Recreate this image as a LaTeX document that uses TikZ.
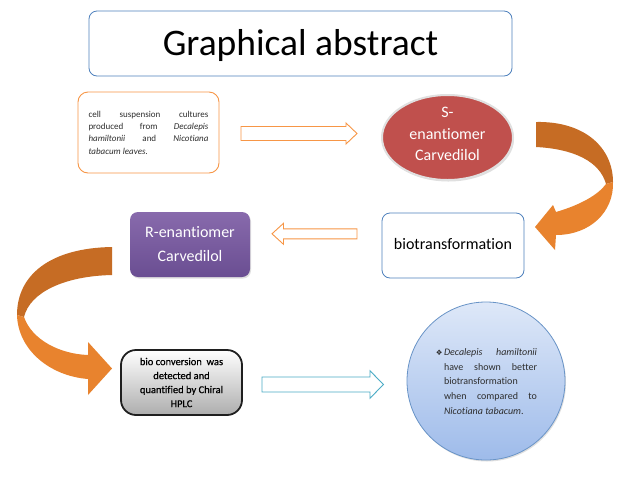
\documentclass[tikz,border=0pt]{standalone}
\usepackage{fontspec}
\setmainfont{Carlito}[Ligatures=NoCommon]
\newfontfamily\hplcfont{Carlito}[Ligatures=NoCommon,FakeBold=0.6]
\newfontfamily\symfont{DejaVu Sans}
\usetikzlibrary{shapes.geometric,shadows,calc}
\hyphenpenalty=10000
\exhyphenpenalty=10000
\tolerance=9999
\hbadness=10000
\definecolor{tblue}{RGB}{79,129,189}
\definecolor{torange}{RGB}{247,150,70}
\definecolor{sred}{RGB}{192,80,77}
\definecolor{rpurpT}{RGB}{136,106,172}
\definecolor{rpurpB}{RGB}{106,78,146}
\definecolor{ribdark}{RGB}{198,108,36}
\definecolor{riblight}{RGB}{232,131,46}
\definecolor{cyanarr}{RGB}{75,172,198}
\definecolor{circT}{RGB}{222,232,248}
\definecolor{circB}{RGB}{158,187,234}
\definecolor{txtgray}{RGB}{45,45,45}
\begin{document}
\begin{tikzpicture}[x=1pt,y=-1pt,
  rbox/.style={rounded corners=8pt, draw=tblue, line width=0.8pt, fill=white, inner sep=0pt},
  hollow/.style={draw=#1, line width=0.9pt, fill=white, line join=miter},
  ribD/.style={fill=ribdark, draw=none},
  ribL/.style={fill=riblight, draw=none},
  softshadow/.style={drop shadow={shadow xshift=1pt, shadow yshift=-1.5pt, opacity=0.25}}
]
\useasboundingbox[fill=white] (0,0) rectangle (640,480);

% title
\node[rbox, minimum width=423pt, minimum height=65pt, text height=24pt, text depth=0pt,
      font=\fontsize{37.5}{42}\selectfont] (title) at (300.5,43.5) {Graphical abstract};

% cell cultures box
\node[draw=torange, rounded corners=10pt, line width=0.9pt, fill=white,
      minimum height=81pt, inner xsep=10.5pt, inner ysep=0pt, text width=120pt, align=justify,
      text=txtgray, font=\fontsize{9}{12.3}\selectfont] (cells) at (148.5,132.5)
  {cell suspension cultures produced from \textit{Decalepis hamiltonii} and \textit{Nicotiana tabacum leaves.}};

% S-enantiomer
\node[ellipse, fill=sred, draw=black!12, line width=2pt, minimum width=131pt, minimum height=85pt,
      inner sep=0pt, softshadow] (sell) at (447.5,137.5) {};
\node[text=white, align=center, font=\fontsize{16}{21.5}\selectfont, inner sep=0pt] (stxt)
  at (447.5,134) {S-\\enantiomer\\Carvedilol};

% biotransformation
\node[rbox, minimum width=142pt, minimum height=65pt, text height=11pt, text depth=4pt,
      font=\fontsize{16}{20}\selectfont] (bio) at (453,245.5) {biotransformation};

% R-enantiomer
\node[rounded corners=8pt, top color=rpurpT, bottom color=rpurpB, draw=none,
      minimum width=120pt, minimum height=65pt, inner sep=0pt, text=white, align=center,
      font=\fontsize{16}{24}\selectfont, softshadow] (rbox) at (190,244.5) {R-enantiomer\\Carvedilol};

% HPLC box
\node[rounded corners=15pt, draw=black!88, line width=1.8pt, top color=white, bottom color=black!32,
      minimum width=121pt, minimum height=65pt, inner sep=0pt, align=center,
      font=\hplcfont\fontsize{10.5}{14}\selectfont] (hplc) at (181.5,382.5)
  {bio conversion~ was\\detected and\\quantified by Chiral\\HPLC};

% result circle
\node[circle, minimum size=158pt, inner sep=0pt, top color=circT, bottom color=circB,
      draw=tblue!85, line width=0.8pt, softshadow] (circ) at (486,381) {};
\node[text width=93pt, align=justify, inner sep=0pt, text=txtgray,
      font=\fontsize{10}{14.7}\selectfont] (ctxt) at (490.5,381.5)
  {\noindent\llap{{\symfont\fontsize{7.5}{9}\selectfont ❖}\hspace{1.5pt}}\textit{Decalepis hamiltonii}\linebreak
   have shown better\linebreak biotransformation\linebreak when compared to\linebreak
   \textit{Nicotiana tabacum}.};

% hollow block arrows
\coordinate (oa1) at (241,133.5);
\coordinate (oa2) at (357,133.5);
\draw[hollow=torange] ($(oa1)+(0,-7)$) -- ($(oa2)+(-11,-7)$) -- ($(oa2)+(-11,-10.5)$) -- (oa2)
  -- ($(oa2)+(-11,10.5)$) -- ($(oa2)+(-11,7)$) -- ($(oa1)+(0,7)$) -- cycle;

\coordinate (ob1) at (357,233.8);
\coordinate (ob2) at (272,233.8);
\draw[hollow=torange] ($(ob1)+(0,-5)$) -- ($(ob2)+(11.5,-5)$) -- ($(ob2)+(11.5,-10.5)$) -- (ob2)
  -- ($(ob2)+(11.5,10.5)$) -- ($(ob2)+(11.5,5)$) -- ($(ob1)+(0,5)$) -- cycle;

\coordinate (oc1) at (262,384.5);
\coordinate (oc2) at (383.5,384.5);
\draw[hollow=cyanarr] ($(oc1)+(0,-7.5)$) -- ($(oc2)+(-13.5,-7.5)$) -- ($(oc2)+(-13.5,-13.7)$) -- (oc2)
  -- ($(oc2)+(-13.5,13.7)$) -- ($(oc2)+(-13.5,7.5)$) -- ($(oc1)+(0,7.5)$) -- cycle;

% top-right curved ribbon arrow
\fill[ribD] (536,122) .. controls (585,121) and (613,148) .. (613,182) -- (606,184)
  .. controls (600,162) and (575,149) .. (536,147) -- cycle;
\fill[ribL] (606,184) -- (613,182) .. controls (614,212) and (590,235) .. (556,235) -- (555,250)
  -- (535,227) -- (553,205) -- (556,212) .. controls (580,205) and (598,195) .. (606,184) -- cycle;

% left curved ribbon arrow
\fill[ribD] (112,247) .. controls (50,248) and (17,275) .. (17,315) -- (24,317)
  .. controls (30,292) and (65,276) .. (112,275) -- cycle;
\fill[ribL] (17,315) .. controls (18,350) and (50,376) .. (88,379) -- (88,395) -- (112,368.5)
  -- (88,342) -- (88,355) .. controls (60,354) and (32,340) .. (24,317) -- cycle;
\end{tikzpicture}
\end{document}
